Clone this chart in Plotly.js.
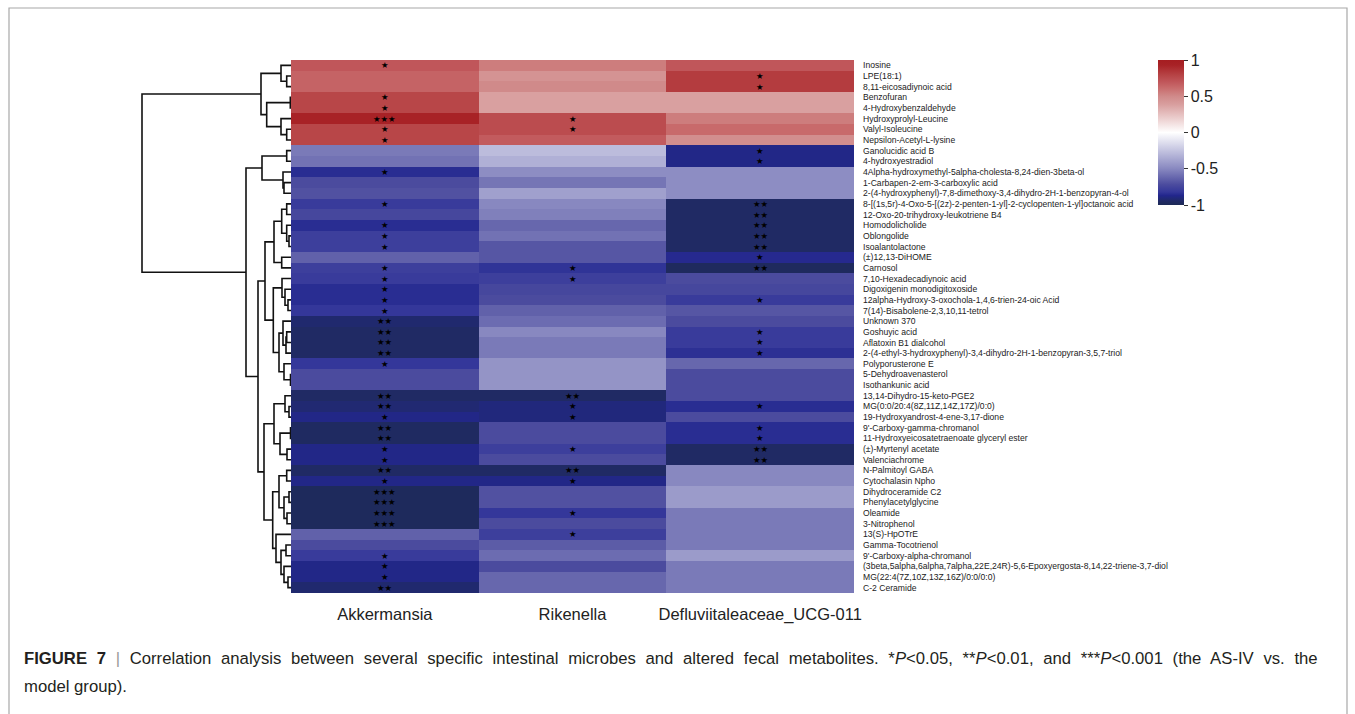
<!DOCTYPE html>
<html><head><meta charset="utf-8">
<script src="https://cdn.plot.ly/plotly-3.0.1.min.js"></script>
<style>html,body{margin:0;padding:0;background:#fff;}#chart{width:1355px;height:714px;}</style>
</head><body><div id="chart"></div>
<script>
const metabolites = [
 'Inosine','LPE(18:1)','8,11-eicosadiynoic acid','Benzofuran','4-Hydroxybenzaldehyde',
 'Hydroxyprolyl-Leucine','Valyl-Isoleucine','Nepsilon-Acetyl-L-lysine','Ganolucidic acid B','4-hydroxyestradiol',
 '4Alpha-hydroxymethyl-5alpha-cholesta-8,24-dien-3beta-ol','1-Carbapen-2-em-3-carboxylic acid',
 '2-(4-hydroxyphenyl)-7,8-dimethoxy-3,4-dihydro-2H-1-benzopyran-4-ol',
 '8-[(1s,5r)-4-Oxo-5-[(2z)-2-penten-1-yl]-2-cyclopenten-1-yl]octanoic acid',
 '12-Oxo-20-trihydroxy-leukotriene B4','Homodolicholide','Oblongolide','Isoalantolactone','(±)12,13-DiHOME',
 'Carnosol','7,10-Hexadecadiynoic acid','Digoxigenin monodigitoxoside',
 '12alpha-Hydroxy-3-oxochola-1,4,6-trien-24-oic Acid','7(14)-Bisabolene-2,3,10,11-tetrol','Unknown 370',
 'Goshuyic acid','Aflatoxin B1 dialcohol','2-(4-ethyl-3-hydroxyphenyl)-3,4-dihydro-2H-1-benzopyran-3,5,7-triol',
 'Polyporusterone E','5-Dehydroavenasterol','Isothankunic acid','13,14-Dihydro-15-keto-PGE2',
 'MG(0:0/20:4(8Z,11Z,14Z,17Z)/0:0)','19-Hydroxyandrost-4-ene-3,17-dione','9\'-Carboxy-gamma-chromanol',
 '11-Hydroxyeicosatetraenoate glyceryl ester','(±)-Myrtenyl acetate','Valenciachrome','N-Palmitoyl GABA',
 'Cytochalasin Npho','Dihydroceramide C2','Phenylacetylglycine','Oleamide','3-Nitrophenol','13(S)-HpOTrE',
 'Gamma-Tocotrienol','9\'-Carboxy-alpha-chromanol',
 '(3beta,5alpha,6alpha,7alpha,22E,24R)-5,6-Epoxyergosta-8,14,22-triene-3,7-diol',
 'MG(22:4(7Z,10Z,13Z,16Z)/0:0/0:0)','C-2 Ceramide'
];
const microbes = ['Akkermansia','Rikenella','Defluviitaleaceae_UCG-011'];

const akkermansia = [0.70,0.65,0.65,0.78,0.78,0.93,0.78,0.78,-0.55,-0.58,
 -0.85,-0.72,-0.70,-0.80,-0.74,-0.85,-0.78,-0.78,-0.64,-0.78,
 -0.80,-0.85,-0.85,-0.82,-0.93,-0.95,-0.95,-0.95,-0.82,-0.72,
 -0.72,-0.95,-0.92,-0.88,-0.96,-0.96,-0.88,-0.88,-0.95,-0.88,
 -0.98,-0.98,-0.98,-0.98,-0.64,-0.72,-0.80,-0.88,-0.88,-0.93];
const rikenella = [0.55,0.45,0.50,0.38,0.38,0.75,0.75,0.68,-0.28,-0.33,
 -0.48,-0.57,-0.40,-0.50,-0.53,-0.62,-0.58,-0.68,-0.68,-0.83,
 -0.78,-0.74,-0.72,-0.64,-0.60,-0.50,-0.55,-0.55,-0.45,-0.45,
 -0.45,-0.95,-0.90,-0.90,-0.72,-0.72,-0.78,-0.72,-0.95,-0.88,
 -0.70,-0.70,-0.82,-0.72,-0.78,-0.66,-0.60,-0.72,-0.62,-0.62];
const defluviitaleaceae = [0.70,0.82,0.82,0.38,0.38,0.55,0.62,0.48,-0.88,-0.88,
 -0.48,-0.48,-0.48,-0.95,-0.95,-0.95,-0.95,-0.95,-0.86,-0.97,
 -0.72,-0.74,-0.80,-0.68,-0.72,-0.80,-0.80,-0.84,-0.62,-0.72,
 -0.72,-0.72,-0.85,-0.72,-0.85,-0.85,-0.95,-0.95,-0.50,-0.50,
 -0.42,-0.42,-0.55,-0.55,-0.55,-0.55,-0.42,-0.55,-0.55,-0.55];

const sigAkkermansia = ['*','','','*','*','***','*','*','','',
 '*','','','*','','*','*','*','','*',
 '*','*','*','*','**','**','**','**','*','',
 '','**','**','*','**','**','*','*','**','*',
 '***','***','***','***','','','*','*','*','**'];
const sigRikenella = ['','','','','','*','*','','','',
 '','','','','','','','','','*',
 '*','','','','','','','','','',
 '','**','*','*','','','*','','**','*',
 '','','*','','*','','','','',''];
const sigDefluviitaleaceae = ['','*','*','','','','','','*','*',
 '','','','**','**','**','**','**','*','**',
 '','','*','','','*','*','*','','',
 '','','*','','*','*','**','**','','',
 '','','','','','','','','',''];

// hierarchical clustering of rows: [mergeHeight, left, right], leaves = row numbers (1-based)
const rowTree = [149,
  [30, [10, 1, [4.3, 2, 3]], [24.3, [0.7, 4, 5], [10, 6, [4.3, 7, 8]]]],
  [45,
    [29, [4.3, 9, 10], [8, 11, [7, 12, 13]]],
    [33,
      [26,
        [17, [9.3, [4.3, 14, 15], [4.3, 16, [2, 17, 18]]], [9.3, 19, 20]],
        [17.7, [9, 21, [6, 22, [3, 23, 24]]],
               [12, [8, 25, [5, [4.3, 26, 27], 28]], [7, 29, [0.5, 30, 31]]]]],
      [27,
        [17, [6, 32, [2, 33, 34]], [11, [0.5, 35, 36], [4, 37, 38]]],
        [18.3, [12, [4.3, 39, 40], [7, [2, 41, 42], [4, 43, 44]]],
               [15, 45, [10, [5, 46, 47], [7, 48, [3, 49, 50]]]]]]]]];

const colorTicks = [-1, -0.5, 0, 0.5, 1];

// ---- build ----
const W = 1355, H = 714;
const px = v => v / W, py = v => 1 - v / H;
const rows = metabolites.map((_, i) => i);
const z = rows.map(i => [akkermansia[i], rikenella[i], defluviitaleaceae[i]]);

const dx = [], dy = [];
function walk(node) {
  if (typeof node === 'number') return { y: node - 1, h: 0 };
  const a = walk(node[1]), b = walk(node[2]), h = node[0];
  dx.push(a.h, h, h, b.h, null);
  dy.push(a.y, a.y, b.y, b.y, null);
  return { y: (a.y + b.y) / 2, h: h };
}
walk(rowTree);

const heat = {
  type: 'heatmap', x: [0, 1, 2], y: rows, z: z,
  zmin: -1, zmax: 1,
  colorscale: [[0, '#1d2a56'], [0.025, '#202a64'], [0.05, '#21287c'], [0.065, '#22268c'],
    [0.09, '#34379a'], [0.14, '#4b4b9e'], [0.25, '#8888c0'], [0.36, '#bcbcdc'], [0.5, '#ffffff'],
    [0.69, '#d9a0a0'], [0.75, '#d08a8a'], [0.81, '#c86a6b'], [0.85, '#c0565a'], [0.89, '#b84648'],
    [0.965, '#a82226'], [1, '#a51d21']],
  xaxis: 'x', yaxis: 'y', hoverinfo: 'skip',
  colorbar: {
    x: px(1158), xanchor: 'left', xpad: 0, y: py(60), yanchor: 'top', ypad: 0,
    len: 145, lenmode: 'pixels', thickness: 26, outlinewidth: 0,
    tickvals: colorTicks, ticktext: colorTicks.map(String),
    ticks: 'outside', ticklen: 4, tickcolor: '#333', tickwidth: 1,
    tickfont: { family: 'Liberation Sans, Arial, sans-serif', size: 16, color: '#222' }
  }
};
const dendro = {
  type: 'scatter', mode: 'lines', x: dx, y: dy, xaxis: 'x2', yaxis: 'y2',
  line: { color: '#111', width: 1.6 }, hoverinfo: 'skip', showlegend: false
};

const sigCols = [sigAkkermansia, sigRikenella, sigDefluviitaleaceae];
const annotations = [];
sigCols.forEach((col, c) => col.forEach((s, i) => {
  if (s) annotations.push({ x: c, y: i, xref: 'x', yref: 'y', text: s.replace(/\*/g, '★'), showarrow: false,
    yshift: 0, borderpad: 0, font: { family: 'DejaVu Sans, sans-serif', size: 8.4, color: '#000' } });
}));
const capFont = { family: 'Liberation Sans, Arial, sans-serif', size: 16.7, color: '#231f20' };
annotations.push({ xref: 'paper', yref: 'paper', x: px(22), y: py(658), xanchor: 'left', yanchor: 'middle',
  showarrow: false, font: capFont,
  text: '<span style="word-spacing:5.05px"><b>FIGURE 7</b> <span style="color:#999">|</span> Correlation analysis between several specific intestinal microbes and altered fecal metabolites. *<i>P</i>&lt;0.05, **<i>P</i>&lt;0.01, and ***<i>P</i>&lt;0.001 (the AS-IV vs. the</span>' });
annotations.push({ xref: 'paper', yref: 'paper', x: px(22), y: py(686), xanchor: 'left', yanchor: 'middle',
  showarrow: false, font: capFont, text: 'model group).' });

const layout = {
  width: W, height: H, margin: { l: 0, r: 0, t: 0, b: 0 },
  paper_bgcolor: '#fff', plot_bgcolor: '#fff', showlegend: false,
  xaxis: { domain: [px(291), px(854)], range: [-0.5, 2.5], tickvals: [0, 1, 2], ticktext: microbes,
    ticks: '', showgrid: false, zeroline: false, showline: false, ticklabelstandoff: 9,
    tickfont: { family: 'Liberation Sans, Arial, sans-serif', size: 16.5, color: '#222' } },
  yaxis: { domain: [py(593), py(60)], range: [49.5, -0.5], tickvals: rows, ticktext: metabolites,
    side: 'right', ticks: '', showgrid: false, zeroline: false, showline: false, ticklabelstandoff: 8,
    tickfont: { family: 'Liberation Sans, Arial, sans-serif', size: 8.6, color: '#222' } },
  xaxis2: { domain: [px(140), px(291)], range: [151, 0], visible: false, fixedrange: true },
  yaxis2: { domain: [py(593), py(60)], range: [49.5, -0.5], visible: false, anchor: 'x2' },
  shapes: [{ type: 'rect', xref: 'paper', yref: 'paper', x0: px(9), x1: px(1347), y0: py(730), y1: py(8),
    line: { color: '#a8a8a8', width: 1.2 }, fillcolor: 'rgba(0,0,0,0)' }],
  annotations: annotations
};
Plotly.newPlot('chart', [heat, dendro], layout, { staticPlot: true, displayModeBar: false });
</script></body></html>
